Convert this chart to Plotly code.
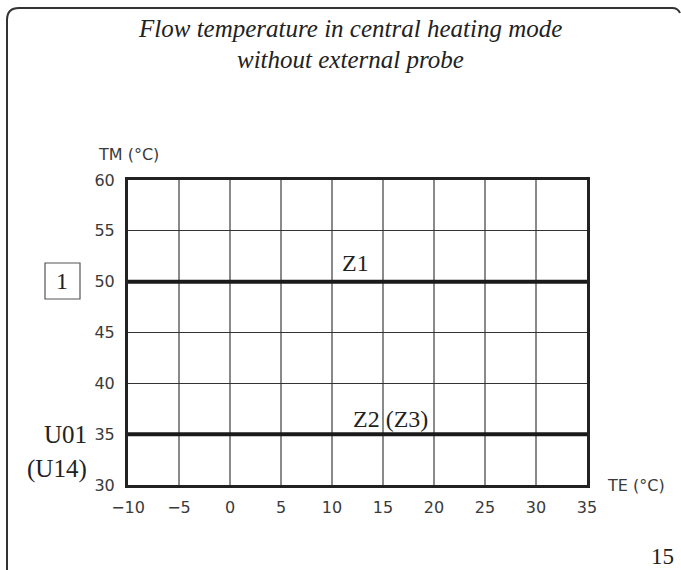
import plotly.graph_objects as go

# ---- data ----
te_range = [-10, 35]
tm_range = [30, 60]
x_ticks = [-10, -5, 0, 5, 10, 15, 20, 25, 30, 35]
y_ticks = [30, 35, 40, 45, 50, 55, 60]
te_line = [-10, 35]
z1_values = [50, 50]
z2_values = [35, 35]

W, H = 681, 570
L, R, T, B = 128, 587, 180, 485

def px(x):
    return (x - L) / (R - L)

def py(y):
    return (B - y) / (B - T)

fig = go.Figure()
fig.add_trace(go.Scatter(x=te_line, y=z1_values, mode="lines",
                         line=dict(color="#1a1a1a", width=4), hoverinfo="skip"))
fig.add_trace(go.Scatter(x=te_line, y=z2_values, mode="lines",
                         line=dict(color="#1a1a1a", width=4), hoverinfo="skip"))

tick_font = dict(family="DejaVu Sans", size=16, color="#3a3a3a")
fig.update_xaxes(range=te_range, tickvals=x_ticks, showgrid=True, gridcolor="#8a8a8a",
                 gridwidth=1.5, zeroline=False, showline=True, linecolor="#222222",
                 linewidth=3, mirror=True, ticks="", tickfont=tick_font, ticklabelstandoff=6)
fig.update_yaxes(range=tm_range, tickvals=y_ticks, showgrid=True, gridcolor="#333333",
                 gridwidth=1, zeroline=False, showline=True, linecolor="#222222",
                 linewidth=3, mirror=True, ticks="", tickfont=tick_font, ticklabelstandoff=7)

serif = "Liberation Serif"
ann = []
def text(x, y, s, size, fam=serif, xanchor="center", italic=False, color="#222222"):
    ann.append(dict(x=px(x), y=py(y), xref="paper", yref="paper", text=s, showarrow=False,
                    xanchor=xanchor, yanchor="middle",
                    font=dict(family=fam, size=size, color=color,
                              style="italic" if italic else "normal")))

text(350, 29, "Flow temperature in central heating mode", 25, italic=True)
text(350, 59, "without external probe", 25, italic=True)
text(96, 155, "TM (°C)", 16, fam="DejaVu Sans", xanchor="left", color="#3a3a3a")
text(605, 485, "TE (°C)", 16, fam="DejaVu Sans", xanchor="left", color="#3a3a3a")
text(355, 263, "Z1", 24)
text(390, 419, "Z2 (Z3)", 24)
text(89, 434, "U01", 25, xanchor="right")
text(89, 469, "(U14)", 25, xanchor="right")
text(62, 281, "1", 24)
text(662, 556, "15", 23)
fig.update_layout(annotations=ann)

shapes = [
    dict(type="rect", xref="paper", yref="paper", x0=px(45), x1=px(80), y0=py(263), y1=py(299),
         line=dict(color="#555555", width=1.2)),
    dict(type="path", xref="paper", yref="paper",
         path=f"M {px(7)},{py(572)} L {px(7)},{py(20)} Q {px(7)},{py(8)} {px(19)},{py(8)} "
              f"L {px(672)},{py(8)} Q {px(678)},{py(8)} {px(680)},{py(13)}",
         line=dict(color="#333333", width=2)),
]
fig.update_layout(shapes=shapes)

fig.update_layout(width=W, height=H, margin=dict(l=L, r=W - R, t=T, b=H - B),
                  paper_bgcolor="white", plot_bgcolor="white", showlegend=False)
fig.write_html("out.html", config={"displayModeBar": False, "staticPlot": True})

# remove the default page margin so the figure sits at the window's top-left corner
with open("out.html", "r", encoding="utf-8") as f:
    html = f.read()
html = html.replace("<head>", "<head><style>html,body{margin:0;padding:0;overflow:hidden;}</style>", 1)
with open("out.html", "w", encoding="utf-8") as f:
    f.write(html)
